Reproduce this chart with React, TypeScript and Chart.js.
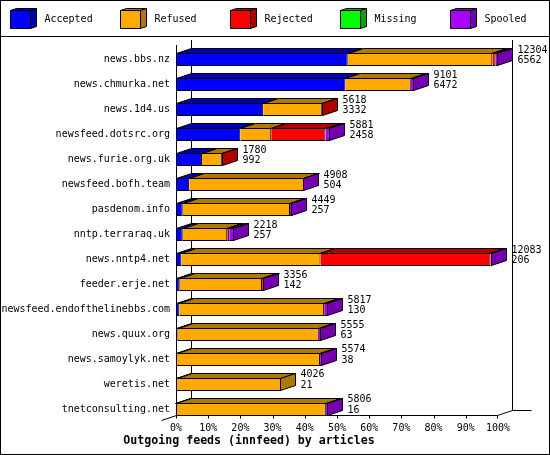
import { useEffect, useRef } from "react";
import { Chart, registerables } from "chart.js";

Chart.register(...registerables);

// Hosts (top to bottom)
const hosts = [
  "news.bbs.nz",
  "news.chmurka.net",
  "news.1d4.us",
  "newsfeed.dotsrc.org",
  "news.furie.org.uk",
  "newsfeed.bofh.team",
  "pasdenom.info",
  "nntp.terraraq.uk",
  "news.nntp4.net",
  "feeder.erje.net",
  "newsfeed.endofthelinebbs.com",
  "news.quux.org",
  "news.samoylyk.net",
  "weretis.net",
  "tnetconsulting.net",
];

// Offered articles (first number at the bar end)
const totals = [12304, 9101, 5618, 5881, 1780, 4908, 4449, 2218, 12083, 3356, 5817, 5555, 5574, 4026, 5806];

// Per-status article counts (accepted is the second number at the bar end)
const accepted = [6562, 6472, 3332, 2458, 992, 504, 257, 257, 206, 142, 130, 63, 38, 21, 16];
const refused = [5525, 2500, 2240, 1180, 760, 4390, 4100, 1700, 5315, 3145, 5530, 5395, 5460, 4005, 5710];
const rejected = [127, 0, 46, 2075, 28, 0, 0, 75, 6495, 60, 0, 0, 0, 0, 0];
const missing = [0, 0, 0, 0, 0, 0, 0, 0, 0, 0, 0, 0, 0, 0, 0];
const spooled = [90, 129, 0, 168, 0, 14, 92, 186, 67, 9, 157, 97, 76, 0, 80];

const seriesLabels = ["Accepted", "Refused", "Rejected", "Missing", "Spooled"];
const pctTicks = ["0%", "10%", "20%", "30%", "40%", "50%", "60%", "70%", "80%", "90%", "100%"];
const chartTitle = "Outgoing feeds (innfeed) by articles";

const frontColors = ["#0000FF", "#FFAA00", "#FF0000", "#00FF00", "#AA00FF"];
const darkColors = ["#0000B0", "#B07800", "#B00000", "#00A800", "#7400B0"];

const FONT = '"DejaVu Sans Mono", "Liberation Mono", monospace';
const DX = 15;
const DY = 5;

const px = (v: number) => Math.round(v) + 0.5;

const poly = (ctx: CanvasRenderingContext2D, pts: number[][], fill: string) => {
  ctx.beginPath();
  ctx.moveTo(pts[0][0], pts[0][1]);
  for (let k = 1; k < pts.length; k++) ctx.lineTo(pts[k][0], pts[k][1]);
  ctx.closePath();
  ctx.fillStyle = fill;
  ctx.fill();
  ctx.stroke();
};

const line = (ctx: CanvasRenderingContext2D, x1: number, y1: number, x2: number, y2: number) => {
  ctx.beginPath();
  ctx.moveTo(x1, y1);
  ctx.lineTo(x2, y2);
  ctx.stroke();
};

const depthPlugin = {
  id: "depth",
  beforeDraw(chart: any) {
    const { ctx, width, height } = chart;
    ctx.save();
    ctx.fillStyle = "#fff";
    ctx.fillRect(0, 0, width, height);
    ctx.restore();
  },
  beforeDatasetsDraw(chart: any) {
    const { ctx, chartArea } = chart;
    const x = chart.scales.x;
    const left = px(x.getPixelForValue(0));
    const right = px(x.getPixelForValue(100)) - 1;
    const top = chartArea.top - 2;
    const bottom = px(chartArea.bottom - 7);
    ctx.save();
    ctx.strokeStyle = "#000";
    ctx.lineWidth = 1;
    // back wall
    line(ctx, left + DX, top - DY, left + DX, bottom - DY);
    line(ctx, right + DX, top - DY, right + DX, bottom - DY);
    line(ctx, right + DX, bottom - DY, right + DX + 19, bottom - DY);
    // floor
    line(ctx, left, bottom, right, bottom);
    line(ctx, right, bottom, right + DX, bottom - DY);
    line(ctx, left - DX, bottom + DY, left, bottom);
    x.ticks.forEach((t: any) => {
      const tx = px(x.getPixelForValue(t.value)) - (t.value === 100 ? 1 : 0);
      line(ctx, tx, bottom, tx, bottom + 3);
    });
    ctx.restore();
  },
  afterDatasetsDraw(chart: any) {
    const { ctx, chartArea } = chart;
    const x = chart.scales.x;
    ctx.save();
    ctx.strokeStyle = "#000";
    ctx.lineWidth = 1;
    const left = px(x.getPixelForValue(0));
    line(ctx, left, chartArea.top - 2, left, px(chartArea.bottom - 7));

    hosts.forEach((_, i) => {
      let lastEl: any = null;
      let lastD = -1;
      chart.data.datasets.forEach((ds: any, d: number) => {
        if (!(ds.data[i] > 0)) return;
        const el = chart.getDatasetMeta(d).data[i];
        const p = el.getProps(["x", "y", "base", "height"], true);
        const top = px(p.y - p.height / 2);
        const x0 = px(p.base);
        const x1 = Math.round(p.x) - 0.5;
        poly(ctx, [[x0, top], [x1, top], [x1 + DX, top - DY], [x0 + DX, top - DY]], darkColors[d]);
        lastEl = p;
        lastD = d;
      });
      if (!lastEl) return;
      const top = px(lastEl.y - lastEl.height / 2);
      const bot = top + Math.round(lastEl.height) - 1;
      const end = Math.round(lastEl.x) - 0.5;
      poly(ctx, [[end, top], [end + DX, top - DY], [end + DX, bot - DY], [end, bot]], darkColors[lastD]);

      ctx.fillStyle = "#000";
      ctx.font = `10px ${FONT}`;
      ctx.textAlign = "left";
      ctx.textBaseline = "middle";
      ctx.fillText(String(totals[i]), end + DX + 5, lastEl.y - 9.5);
      ctx.fillText(String(accepted[i]), end + DX + 5, lastEl.y + 1);
    });
    ctx.restore();
  },
  afterDraw(chart: any) {
    const { ctx, width, height } = chart;
    ctx.save();
    ctx.strokeStyle = "#000";
    ctx.lineWidth = 1;
    ctx.strokeRect(0.5, 0.5, width - 1, height - 1);
    line(ctx, 0, 36.5, width, 36.5);

    // legend with 3D boxes
    seriesLabels.forEach((label, d) => {
      const x0 = 10.5 + d * 110;
      const y0 = 10.5;
      const w = 20;
      const h = 18;
      poly(ctx, [[x0, y0], [x0 + w, y0], [x0 + w + 6, y0 - 2], [x0 + 6, y0 - 2]], darkColors[d]);
      poly(ctx, [[x0 + w, y0], [x0 + w + 6, y0 - 2], [x0 + w + 6, y0 + h - 2], [x0 + w, y0 + h]], darkColors[d]);
      poly(ctx, [[x0, y0], [x0 + w, y0], [x0 + w, y0 + h], [x0, y0 + h]], frontColors[d]);
      ctx.fillStyle = "#000";
      ctx.font = `10px ${FONT}`;
      ctx.textAlign = "left";
      ctx.textBaseline = "middle";
      ctx.fillText(label, x0 + 34, 19);
    });
    ctx.restore();
  },
};

const App = () => {
  const canvasRef = useRef<HTMLCanvasElement | null>(null);
  const chartRef = useRef<Chart | null>(null);

  useEffect(() => {
    document.body.style.margin = "0";
    if (chartRef.current) chartRef.current.destroy();
    if (!canvasRef.current) return;

    const maxTotal = Math.max(...totals);
    const series = [accepted, refused, rejected, missing, spooled];

    chartRef.current = new Chart(canvasRef.current, {
      type: "bar",
      data: {
        labels: hosts,
        datasets: series.map((values, d) => ({
          label: seriesLabels[d],
          data: values.map((v) => (v / maxTotal) * 100),
          backgroundColor: frontColors[d],
          borderColor: "#000",
          borderWidth: (c: any) => (c.raw > 0 ? 1 : 0),
          borderSkipped: "start",
          barThickness: 13,
          inflateAmount: 0,
        })),
      },
      options: {
        animation: false,
        responsive: true,
        maintainAspectRatio: false,
        indexAxis: "y",
        layout: { padding: { top: 47, right: 52, left: 0, bottom: 0 } },
        plugins: {
          legend: { display: false },
          tooltip: { enabled: false },
          title: {
            display: true,
            position: "bottom",
            text: chartTitle,
            color: "#000",
            font: { family: FONT, size: 11.6, weight: "bold", lineHeight: 1.2 },
            padding: { top: 0, bottom: 7 },
          },
        },
        scales: {
          x: {
            stacked: true,
            min: 0,
            max: 100,
            grid: { display: false, drawTicks: false },
            border: { display: false },
            ticks: {
              stepSize: 10,
              autoSkip: false,
              maxRotation: 0,
              padding: 1,
              color: "#000",
              font: { family: FONT, size: 10 },
              callback: (_v: any, idx: number) => pctTicks[idx],
            },
            afterFit: (s: any) => {
              s.height = 12.2;
            },
          },
          y: {
            stacked: true,
            grid: { display: false, drawTicks: false },
            border: { display: false },
            ticks: {
              autoSkip: false,
              padding: 6,
              color: "#000",
              font: { family: FONT, size: 10 },
            },
            afterFit: (s: any) => {
              s.width = 176;
            },
          },
        },
      } as any,
      plugins: [depthPlugin],
    });

    return () => {
      if (chartRef.current) {
        chartRef.current.destroy();
        chartRef.current = null;
      }
    };
  }, []);

  return (
    <div style={{ width: "550px", height: "455px", position: "relative" }}>
      <canvas ref={canvasRef} />
    </div>
  );
};

export default App;
